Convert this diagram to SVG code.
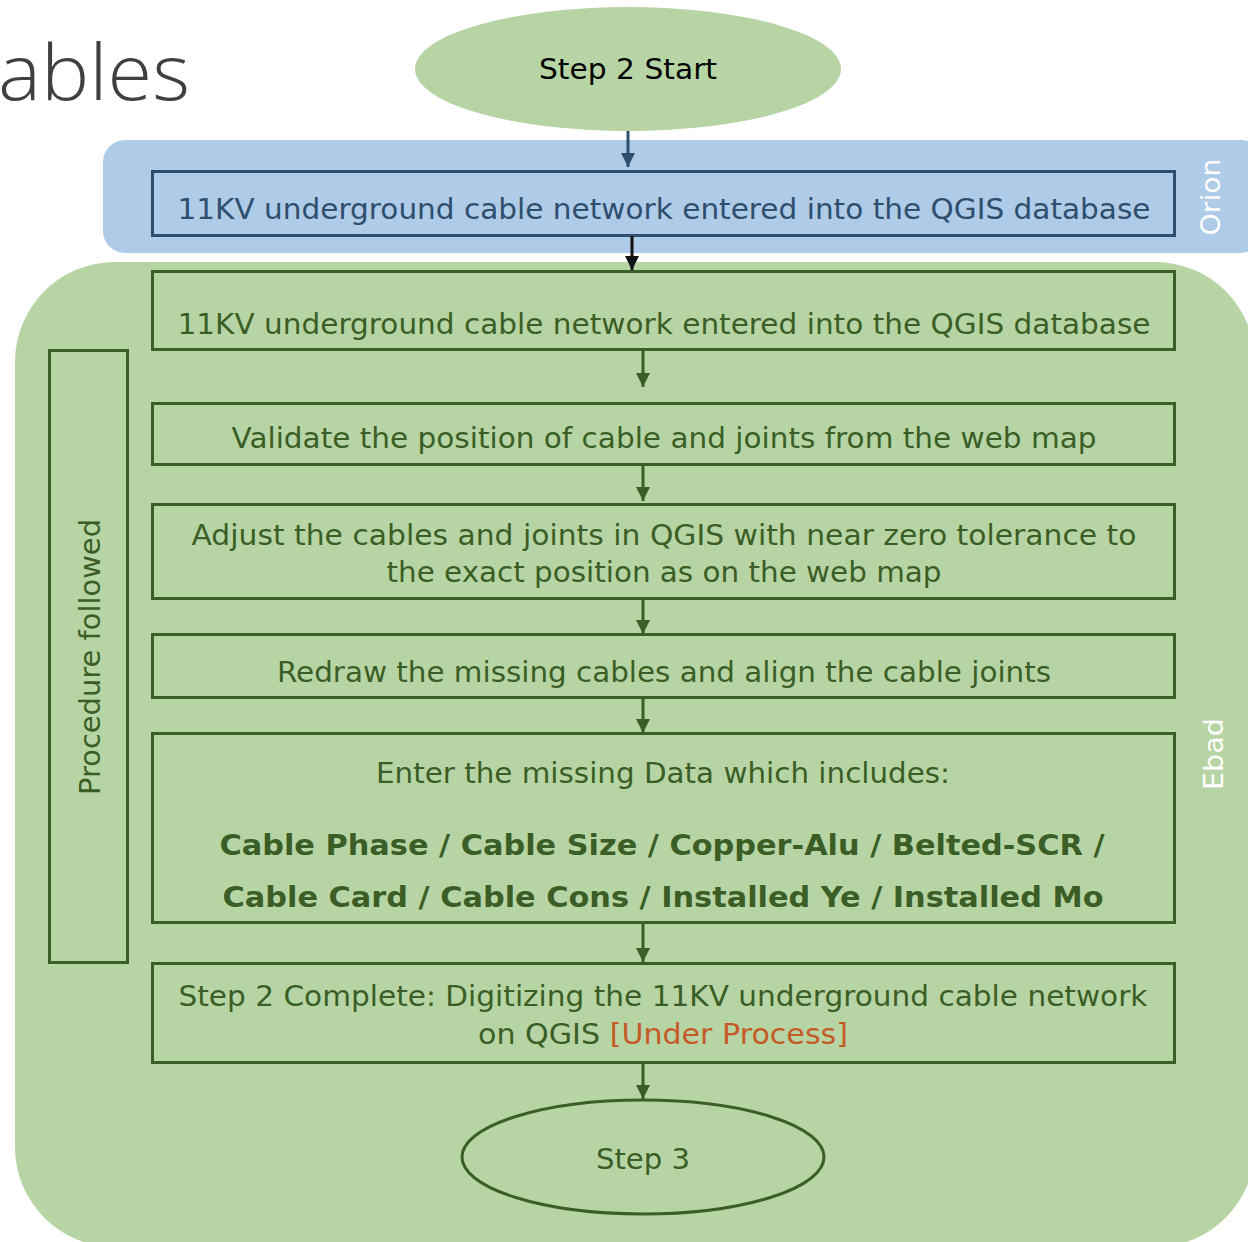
<svg xmlns="http://www.w3.org/2000/svg" width="1248" height="1242" viewBox="0 0 1248 1242">
<defs>
<style>
.t{font-family:"DejaVu Sans","Liberation Sans",sans-serif;font-size:28px;text-anchor:middle}
.g{fill:#3b5e26}
.b{fill:#2e4f6e}
.box{fill:none;stroke:#3b5e26;stroke-width:3}
.bbox{fill:none;stroke:#2e4f6e;stroke-width:3}
.w{fill:#ffffff}
.cg{stroke:#3b5e26;stroke-width:3;fill:none}
</style>
<marker id="ag" markerWidth="14" markerHeight="14" refX="14" refY="7" orient="auto" markerUnits="userSpaceOnUse" viewBox="0 0 14 14"><path d="M0,0 L14,7 L0,14 z" fill="#3b5e26"/></marker>
<marker id="ab" markerWidth="14" markerHeight="14" refX="14" refY="7" orient="auto" markerUnits="userSpaceOnUse" viewBox="0 0 14 14"><path d="M0,0 L14,7 L0,14 z" fill="#2e4f6e"/></marker>
<marker id="ak" markerWidth="14" markerHeight="14" refX="14" refY="7" orient="auto" markerUnits="userSpaceOnUse" viewBox="0 0 14 14"><path d="M0,0 L14,7 L0,14 z" fill="#111"/></marker>
</defs>
<rect width="1248" height="1242" fill="#ffffff"/>
<text x="-2" y="100" style="font-family:'Open Sans','Liberation Sans',sans-serif;font-weight:300;font-size:78px" fill="#404040" textLength="192" lengthAdjust="spacingAndGlyphs">ables</text>

<g id="lane-orion">
<rect x="103" y="140" width="1160" height="113" rx="22" fill="#aecbe8"/>
<text class="t w" transform="translate(1220,197) rotate(-90)" style="font-size:27px" textLength="77" lengthAdjust="spacingAndGlyphs">Orion</text>
</g>
<g id="lane-ebad">
<rect x="15" y="262" width="1240" height="985" rx="100" fill="#b7d5a4"/>
<text class="t w" transform="translate(1223,754) rotate(-90)" style="font-size:27px" textLength="72" lengthAdjust="spacingAndGlyphs">Ebad</text>
</g>

<g id="start">
<ellipse cx="628" cy="69" rx="213" ry="62" fill="#b7d5a4"/>
<text class="t" x="628" y="79" fill="#000" textLength="178" lengthAdjust="spacingAndGlyphs">Step 2 Start</text>
</g>

<g id="procedure">
<rect class="box" x="49.5" y="350.5" width="78" height="612"/>
<text class="t g" transform="translate(100,657) rotate(-90)" textLength="276" lengthAdjust="spacingAndGlyphs">Procedure followed</text>
</g>

<g id="n1">
<rect class="bbox" x="152.5" y="171.5" width="1022" height="64"/>
<text class="t b" x="664" y="219" textLength="973" lengthAdjust="spacingAndGlyphs">11KV underground cable network entered into the QGIS database</text>
</g>
<g id="n2">
<rect class="box" x="152.5" y="271.5" width="1022" height="78"/>
<text class="t g" x="664" y="334" textLength="973" lengthAdjust="spacingAndGlyphs">11KV underground cable network entered into the QGIS database</text>
</g>
<g id="n3">
<rect class="box" x="152.5" y="403.5" width="1022" height="61"/>
<text class="t g" x="664" y="448" textLength="865" lengthAdjust="spacingAndGlyphs">Validate the position of cable and joints from the web map</text>
</g>
<g id="n4">
<rect class="box" x="152.5" y="504.5" width="1022" height="94"/>
<text class="t g" x="664" y="545" textLength="945" lengthAdjust="spacingAndGlyphs">Adjust the cables and joints in QGIS with near zero tolerance to</text>
<text class="t g" x="664" y="582" textLength="555" lengthAdjust="spacingAndGlyphs">the exact position as on the web map</text>
</g>
<g id="n5">
<rect class="box" x="152.5" y="634.5" width="1022" height="63"/>
<text class="t g" x="664" y="682" textLength="774" lengthAdjust="spacingAndGlyphs">Redraw the missing cables and align the cable joints</text>
</g>
<g id="n6">
<rect class="box" x="152.5" y="733.5" width="1022" height="189"/>
<text class="t g" x="663" y="783" textLength="574" lengthAdjust="spacingAndGlyphs">Enter the missing Data which includes:</text>
<text class="t g" x="662" y="855" style="font-weight:bold" textLength="885" lengthAdjust="spacingAndGlyphs">Cable Phase / Cable Size / Copper-Alu / Belted-SCR /</text>
<text class="t g" x="663" y="907" style="font-weight:bold" textLength="881" lengthAdjust="spacingAndGlyphs">Cable Card / Cable Cons / Installed Ye / Installed Mo</text>
</g>
<g id="n7">
<rect class="box" x="152.5" y="963.5" width="1022" height="99"/>
<text class="t g" x="663" y="1006" textLength="969" lengthAdjust="spacingAndGlyphs">Step 2 Complete: Digitizing the 11KV underground cable network</text>
<text class="t g" x="663" y="1044" textLength="370" lengthAdjust="spacingAndGlyphs">on QGIS <tspan fill="#c55a28">[Under Process]</tspan></text>
</g>
<g id="end">
<ellipse cx="643" cy="1157" rx="181" ry="57" fill="none" stroke="#3b5e26" stroke-width="3"/>
<text class="t g" x="643" y="1169" textLength="94" lengthAdjust="spacingAndGlyphs">Step 3</text>
</g>

<g id="connectors">
<line x1="628" y1="131" x2="628" y2="167" stroke="#2e4f6e" stroke-width="3" marker-end="url(#ab)"/>
<line x1="632" y1="236" x2="632" y2="270" stroke="#111" stroke-width="3" marker-end="url(#ak)"/>
<line class="cg" x1="643" y1="350" x2="643" y2="387" marker-end="url(#ag)"/>
<line class="cg" x1="643" y1="465" x2="643" y2="501" marker-end="url(#ag)"/>
<line class="cg" x1="643" y1="599" x2="643" y2="634" marker-end="url(#ag)"/>
<line class="cg" x1="643" y1="698" x2="643" y2="733" marker-end="url(#ag)"/>
<line class="cg" x1="643" y1="923" x2="643" y2="962" marker-end="url(#ag)"/>
<line class="cg" x1="643" y1="1063" x2="643" y2="1099" marker-end="url(#ag)"/>
</g>
</svg>
